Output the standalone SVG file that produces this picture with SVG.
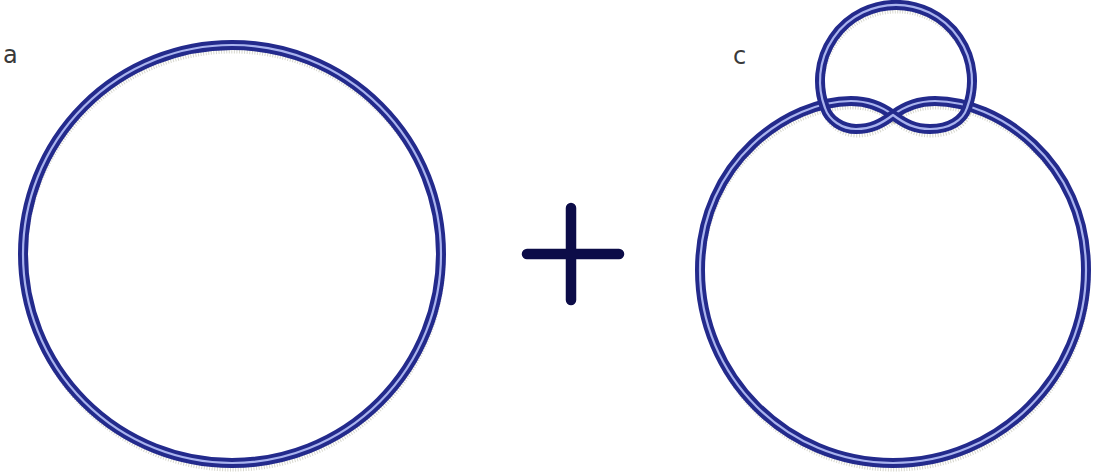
<svg xmlns="http://www.w3.org/2000/svg" width="1103" height="476" viewBox="0 0 1103 476">
  <defs>
    <style>
      .shadow { fill: none; stroke: #b4b4a2; stroke-width: 7; stroke-dasharray: 1 1.6; opacity: 0.55; }
      .rope { fill: none; stroke: #232a8c; stroke-width: 10; stroke-linejoin: round; }
      .core { fill: none; stroke: #a9b3ee; stroke-width: 2.2; stroke-linejoin: round; }
      .lbl { font-family: "DejaVu Sans", "Liberation Sans", sans-serif; font-size: 24px; fill: #3a3a3a; }
      .plus { stroke: #0c0c48; stroke-width: 10.5; stroke-linecap: round; }
    </style>
    <path id="bigLoop" d="M 893,115 C 905,106 918,101 935,101 C 996,101 1086,160 1086,270 C 1086,376.6 999.6,463 893,463 C 786.4,463 700,376.6 700,270 C 700,160 790,101 851,101 C 868,101 881,106 893,115 Z"/>
    <path id="smallLoop" d="M 893,115 C 905,124 915,129 930,129 C 950,129 963,120 967,108 A 76 76 0 1 0 825,108 C 829,120 842,129 856,129 C 871,129 881,124 893,115 Z"/>
  </defs>

  <g id="label-a">
    <text class="lbl" x="3" y="63">a</text>
  </g>

  <g id="node-a">
    <circle class="shadow" cx="233" cy="259" r="209"/>
    <circle class="rope" cx="232" cy="254" r="209"/>
    <circle class="core" cx="232" cy="254" r="209"/>
  </g>

  <g id="plus">
    <line class="plus" x1="571" y1="208" x2="571" y2="300"/>
    <line class="plus" x1="527" y1="254" x2="619" y2="254"/>
  </g>

  <g id="label-c">
    <text class="lbl" x="733" y="64">c</text>
  </g>

  <g id="node-c">
    <use href="#bigLoop" class="shadow" transform="translate(1,5)"/>
    <use href="#smallLoop" class="shadow" transform="translate(1,5)"/>
    <use href="#bigLoop" class="rope"/>
    <use href="#bigLoop" class="core"/>
    <use href="#smallLoop" class="rope"/>
    <use href="#smallLoop" class="core"/>
  </g>

  <g id="connectors"></g>
</svg>
